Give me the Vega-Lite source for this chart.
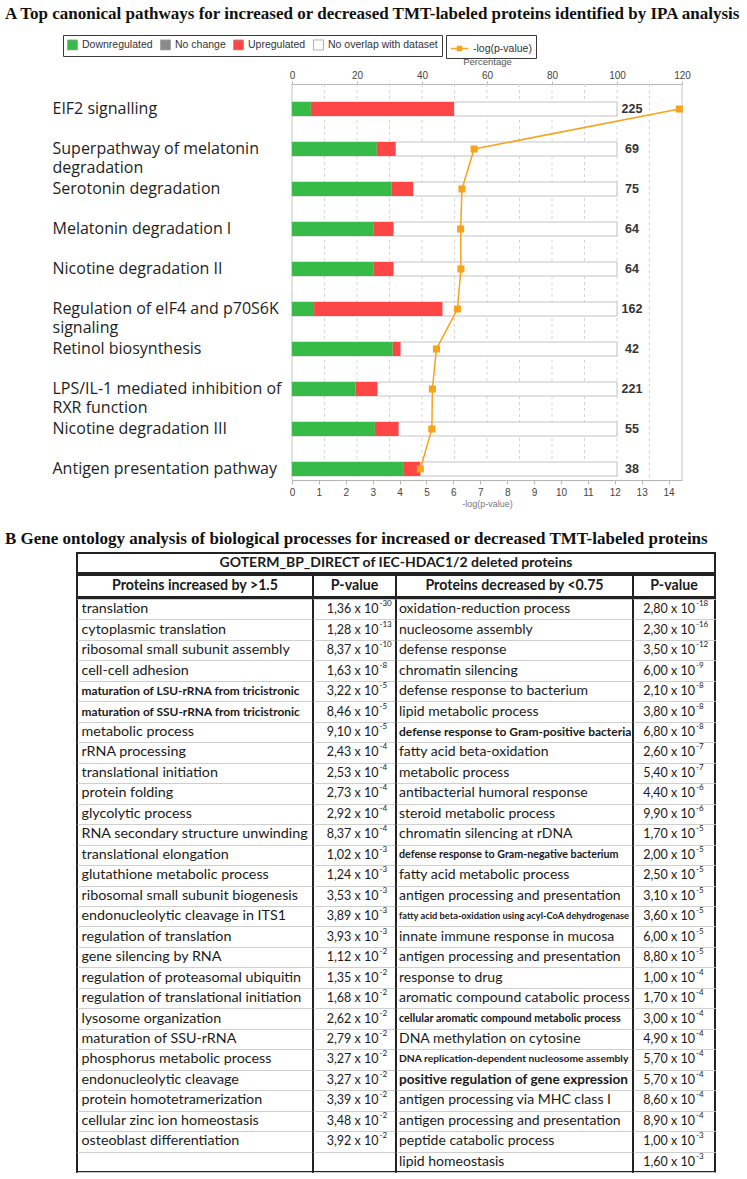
{
  "$schema": "https://vega.github.io/schema/vega-lite/v6.json",
  "padding": {"left": 5, "top": 5, "right": 0, "bottom": 0},
  "background": "white",
  "config": {"view": {"stroke": null}, "axis": {"labelOverlap": false, "labelSeparation": -40}},
  "datasets": {
    "paths": [
      {"pathway": "EIF2 signalling", "n": 225, "logp": 14.4},
      {"pathway": "Superpathway of melatonin degradation", "n": 69, "logp": 6.77},
      {"pathway": "Serotonin degradation", "n": 75, "logp": 6.32},
      {"pathway": "Melatonin degradation I", "n": 64, "logp": 6.27},
      {"pathway": "Nicotine degradation II", "n": 64, "logp": 6.28},
      {"pathway": "Regulation of eIF4 and p70S6K signaling", "n": 162, "logp": 6.15},
      {"pathway": "Retinol biosynthesis", "n": 42, "logp": 5.37},
      {"pathway": "LPS/IL-1 mediated inhibition of RXR function", "n": 221, "logp": 5.22},
      {"pathway": "Nicotine degradation III", "n": 55, "logp": 5.2},
      {"pathway": "Antigen presentation pathway", "n": 38, "logp": 4.77}
    ],
    "bars": [
      {"pathway": "EIF2 signalling", "category": "Downregulated", "pct": 5.8},
      {"pathway": "EIF2 signalling", "category": "Upregulated", "pct": 44.1},
      {"pathway": "EIF2 signalling", "category": "No overlap with dataset", "pct": 50.1},
      {"pathway": "Superpathway of melatonin degradation", "category": "Downregulated", "pct": 26.1},
      {"pathway": "Superpathway of melatonin degradation", "category": "Upregulated", "pct": 5.8},
      {"pathway": "Superpathway of melatonin degradation", "category": "No overlap with dataset", "pct": 68.1},
      {"pathway": "Serotonin degradation", "category": "Downregulated", "pct": 30.7},
      {"pathway": "Serotonin degradation", "category": "Upregulated", "pct": 6.6},
      {"pathway": "Serotonin degradation", "category": "No overlap with dataset", "pct": 62.7},
      {"pathway": "Melatonin degradation I", "category": "Downregulated", "pct": 25.0},
      {"pathway": "Melatonin degradation I", "category": "Upregulated", "pct": 6.25},
      {"pathway": "Melatonin degradation I", "category": "No overlap with dataset", "pct": 68.75},
      {"pathway": "Nicotine degradation II", "category": "Downregulated", "pct": 25.0},
      {"pathway": "Nicotine degradation II", "category": "Upregulated", "pct": 6.25},
      {"pathway": "Nicotine degradation II", "category": "No overlap with dataset", "pct": 68.75},
      {"pathway": "Regulation of eIF4 and p70S6K signaling", "category": "Downregulated", "pct": 6.8},
      {"pathway": "Regulation of eIF4 and p70S6K signaling", "category": "Upregulated", "pct": 39.5},
      {"pathway": "Regulation of eIF4 and p70S6K signaling", "category": "No overlap with dataset", "pct": 53.7},
      {"pathway": "Retinol biosynthesis", "category": "Downregulated", "pct": 31.0},
      {"pathway": "Retinol biosynthesis", "category": "Upregulated", "pct": 2.4},
      {"pathway": "Retinol biosynthesis", "category": "No overlap with dataset", "pct": 66.6},
      {"pathway": "LPS/IL-1 mediated inhibition of RXR function", "category": "Downregulated", "pct": 19.5},
      {"pathway": "LPS/IL-1 mediated inhibition of RXR function", "category": "Upregulated", "pct": 6.8},
      {"pathway": "LPS/IL-1 mediated inhibition of RXR function", "category": "No overlap with dataset", "pct": 73.7},
      {"pathway": "Nicotine degradation III", "category": "Downregulated", "pct": 25.5},
      {"pathway": "Nicotine degradation III", "category": "Upregulated", "pct": 7.3},
      {"pathway": "Nicotine degradation III", "category": "No overlap with dataset", "pct": 67.2},
      {"pathway": "Antigen presentation pathway", "category": "Downregulated", "pct": 34.2},
      {"pathway": "Antigen presentation pathway", "category": "Upregulated", "pct": 5.3},
      {"pathway": "Antigen presentation pathway", "category": "No overlap with dataset", "pct": 60.5}
    ],
    "frame": [{"edge": 0}, {"edge": 10}, {"edge": 20}, {"edge": 30}, {"edge": 40}, {"edge": 50}, {"edge": 60}, {"edge": 70}, {"edge": 80}, {"edge": 90}, {"edge": 100}, {"edge": 110}, {"edge": 120}],
    "hdr1": [{"label": "GOTERM_BP_DIRECT of IEC-HDAC1/2 deleted proteins"}],
    "hdr2": [
      {"col": "inc", "label": "Proteins increased by >1.5"},
      {"col": "incp", "label": "P-value"},
      {"col": "dec", "label": "Proteins decreased by <0.75"},
      {"col": "decp", "label": "P-value"}
    ],
    "go": [
      {"row": 1, "inc": "translation", "inc_p": "1,36 x 10", "inc_e": "-30", "dec": "oxidation-reduction process", "dec_p": "2,80 x 10", "dec_e": "-18"},
      {"row": 2, "inc": "cytoplasmic translation", "inc_p": "1,28 x 10", "inc_e": "-13", "dec": "nucleosome assembly", "dec_p": "2,30 x 10", "dec_e": "-16"},
      {"row": 3, "inc": "ribosomal small subunit assembly", "inc_p": "8,37 x 10", "inc_e": "-10", "dec": "defense response", "dec_p": "3,50 x 10", "dec_e": "-12"},
      {"row": 4, "inc": "cell-cell adhesion", "inc_p": "1,63 x 10", "inc_e": "-8", "dec": "chromatin silencing", "dec_p": "6,00 x 10", "dec_e": "-9"},
      {"row": 5, "inc": "maturation of LSU-rRNA from tricistronic", "inc_p": "3,22 x 10", "inc_e": "-5", "dec": "defense response to bacterium", "dec_p": "2,10 x 10", "dec_e": "-8"},
      {"row": 6, "inc": "maturation of SSU-rRNA from tricistronic", "inc_p": "8,46 x 10", "inc_e": "-5", "dec": "lipid metabolic process", "dec_p": "3,80 x 10", "dec_e": "-8"},
      {"row": 7, "inc": "metabolic process", "inc_p": "9,10 x 10", "inc_e": "-5", "dec": "defense response to Gram-positive bacteria", "dec_p": "6,80 x 10", "dec_e": "-8"},
      {"row": 8, "inc": "rRNA processing", "inc_p": "2,43 x 10", "inc_e": "-4", "dec": "fatty acid beta-oxidation", "dec_p": "2,60 x 10", "dec_e": "-7"},
      {"row": 9, "inc": "translational initiation", "inc_p": "2,53 x 10", "inc_e": "-4", "dec": "metabolic process", "dec_p": "5,40 x 10", "dec_e": "-7"},
      {"row": 10, "inc": "protein folding", "inc_p": "2,73 x 10", "inc_e": "-4", "dec": "antibacterial humoral response", "dec_p": "4,40 x 10", "dec_e": "-6"},
      {"row": 11, "inc": "glycolytic process", "inc_p": "2,92 x 10", "inc_e": "-4", "dec": "steroid metabolic process", "dec_p": "9,90 x 10", "dec_e": "-6"},
      {"row": 12, "inc": "RNA secondary structure unwinding", "inc_p": "8,37 x 10", "inc_e": "-4", "dec": "chromatin silencing at rDNA", "dec_p": "1,70 x 10", "dec_e": "-5"},
      {"row": 13, "inc": "translational elongation", "inc_p": "1,02 x 10", "inc_e": "-3", "dec": "defense response to Gram-negative bacterium", "dec_p": "2,00 x 10", "dec_e": "-5"},
      {"row": 14, "inc": "glutathione metabolic process", "inc_p": "1,24 x 10", "inc_e": "-3", "dec": "fatty acid metabolic process", "dec_p": "2,50 x 10", "dec_e": "-5"},
      {"row": 15, "inc": "ribosomal small subunit biogenesis", "inc_p": "3,53 x 10", "inc_e": "-3", "dec": "antigen processing and presentation", "dec_p": "3,10 x 10", "dec_e": "-5"},
      {"row": 16, "inc": "endonucleolytic cleavage in ITS1", "inc_p": "3,89 x 10", "inc_e": "-3", "dec": "fatty acid beta-oxidation using acyl-CoA dehydrogenase", "dec_p": "3,60 x 10", "dec_e": "-5"},
      {"row": 17, "inc": "regulation of translation", "inc_p": "3,93 x 10", "inc_e": "-3", "dec": "innate immune response in mucosa", "dec_p": "6,00 x 10", "dec_e": "-5"},
      {"row": 18, "inc": "gene silencing by RNA", "inc_p": "1,12 x 10", "inc_e": "-2", "dec": "antigen processing and presentation", "dec_p": "8,80 x 10", "dec_e": "-5"},
      {"row": 19, "inc": "regulation of proteasomal ubiquitin", "inc_p": "1,35 x 10", "inc_e": "-2", "dec": "response to drug", "dec_p": "1,00 x 10", "dec_e": "-4"},
      {"row": 20, "inc": "regulation of translational initiation", "inc_p": "1,68 x 10", "inc_e": "-2", "dec": "aromatic compound catabolic process", "dec_p": "1,70 x 10", "dec_e": "-4"},
      {"row": 21, "inc": "lysosome organization", "inc_p": "2,62 x 10", "inc_e": "-2", "dec": "cellular aromatic compound metabolic process", "dec_p": "3,00 x 10", "dec_e": "-4"},
      {"row": 22, "inc": "maturation of SSU-rRNA", "inc_p": "2,79 x 10", "inc_e": "-2", "dec": "DNA methylation on cytosine", "dec_p": "4,90 x 10", "dec_e": "-4"},
      {"row": 23, "inc": "phosphorus metabolic process", "inc_p": "3,27 x 10", "inc_e": "-2", "dec": "DNA replication-dependent nucleosome assembly", "dec_p": "5,70 x 10", "dec_e": "-4"},
      {"row": 24, "inc": "endonucleolytic cleavage", "inc_p": "3,27 x 10", "inc_e": "-2", "dec": "positive regulation of gene expression", "dec_p": "5,70 x 10", "dec_e": "-4"},
      {"row": 25, "inc": "protein homotetramerization", "inc_p": "3,39 x 10", "inc_e": "-2", "dec": " antigen processing via MHC class I", "dec_p": "8,60 x 10", "dec_e": "-4"},
      {"row": 26, "inc": "cellular zinc ion homeostasis", "inc_p": "3,48 x 10", "inc_e": "-2", "dec": "antigen processing and presentation", "dec_p": "8,90 x 10", "dec_e": "-4"},
      {"row": 27, "inc": "osteoblast differentiation", "inc_p": "3,92 x 10", "inc_e": "-2", "dec": "peptide catabolic process", "dec_p": "1,00 x 10", "dec_e": "-3"},
      {"row": 28, "inc": "", "inc_p": "", "inc_e": "", "dec": "lipid homeostasis", "dec_p": "1,60 x 10", "dec_e": "-3"}
    ]
  },
  "concat": [
    {
      "width": 605,
      "height": 396,
      "title": {"text": "A Top canonical pathways for increased or decreased TMT-labeled proteins identified by IPA analysis", "anchor": "start", "frame": "group", "dx": -72, "font": "Liberation Serif", "fontSize": 17, "fontWeight": "bold", "color": "#111111", "offset": 33},
      "resolve": {"scale": {"x": "independent"}, "axis": {"x": "independent"}},
      "layer": [
        {
          "data": {"name": "frame"},
          "mark": {"type": "rule", "strokeWidth": 1},
          "encoding": {
            "x": {"field": "edge", "type": "quantitative", "title": "Percentage",
              "scale": {"domain": [0, 120], "nice": false, "range": [215, 605]},
              "axis": {"orient": "top", "values": [0, 10, 20, 30, 40, 50, 60, 70, 80, 90, 100, 110, 120], "tickCount": 12, "grid": false, "domainColor": "#b5b5b5", "tickColor": "#b5b5b5", "tickSize": 3, "labelPadding": 1, "labelFont": "Liberation Sans", "labelFontSize": 10, "labelColor": "#444444", "labelFlush": false, "labelOverlap": false, "labelSeparation": -40, "labelBound": false, "titleFont": "Liberation Sans", "titleFontSize": 9.5, "titleFontWeight": "normal", "titleColor": "#555555", "titlePadding": 4}},
            "color": {"condition": {"test": "datum.edge == 0 || datum.edge == 120", "value": "#c4c4c4"}, "value": "#d6d6d6"},
            "strokeDash": {"condition": {"test": "datum.edge == 0 || datum.edge == 120", "value": [1, 0]}, "value": [3, 3]}
          }
        },
        {
          "layer": [
            {
              "data": {"name": "bars"},
              "mark": {"type": "bar", "fill": "white", "stroke": "#c4c4c4", "strokeWidth": 1},
              "encoding": {
                "y": {
                  "field": "pathway", "type": "nominal",
                  "scale": {"domain": ["EIF2 signalling", "Superpathway of melatonin degradation", "Serotonin degradation", "Melatonin degradation I", "Nicotine degradation II", "Regulation of eIF4 and p70S6K signaling", "Retinol biosynthesis", "LPS/IL-1 mediated inhibition of RXR function", "Nicotine degradation III", "Antigen presentation pathway"], "paddingInner": 0.65, "paddingOuter": 0.275, "align": 0.818},
                  "axis": {"title": null, "domain": false, "ticks": false, "tickSize": 0, "labelPadding": 25, "labelAlign": "left", "labelBaseline": "top", "labelOffset": -7.5, "labelFont": "Open Sans", "labelFontSize": 16, "labelColor": "#1e1e1e", "labelLimit": 320, "labelLineHeight": 19, "labelSeparation": 0, "labelExpr": "datum.label == 'Superpathway of melatonin degradation' ? ['Superpathway of melatonin', 'degradation'] : datum.label == 'Regulation of eIF4 and p70S6K signaling' ? ['Regulation of eIF4 and p70S6K', 'signaling'] : datum.label == 'LPS/IL-1 mediated inhibition of RXR function' ? ['LPS/IL-1 mediated inhibition of', 'RXR function'] : datum.label"}
                },
                "x": {"aggregate": "sum", "field": "pct", "type": "quantitative", "title": "Percentage", "axis": null,
                  "scale": {"domain": [0, 120], "nice": false, "range": [215, 605]}}
              }
            },
            {
              "data": {"name": "bars"},
              "transform": [{"filter": "datum.category != 'No overlap with dataset'"}],
              "mark": {"type": "bar"},
              "encoding": {
                "y": {"field": "pathway", "type": "nominal"},
                "x": {"field": "pct", "type": "quantitative", "stack": "zero", "title": "Percentage", "axis": null},
                "order": {"field": "category", "sort": "ascending"},
                "color": {
                  "field": "category", "type": "nominal",
                  "scale": {"domain": ["Downregulated", "No change", "Upregulated", "No overlap with dataset"], "range": ["#36bb47", "#8a8a8a", "#ff4646", "#ffffff"]},
                  "legend": {"orient": "none", "legendX": -14, "legendY": -49, "direction": "horizontal", "title": null, "strokeColor": "#3a3a3a", "padding": 4, "symbolType": "square", "symbolSize": 100, "labelFont": "Liberation Sans", "labelFontSize": 10.5, "labelColor": "#333333", "columnPadding": 5, "labelOffset": 4, "encode": {"symbols": {"update": {"stroke": {"value": "#a0a0a0"}, "strokeWidth": {"value": 0.8}}}}}
                }
              }
            },
            {
              "data": {"name": "bars"},
              "transform": [
                {"aggregate": [{"op": "sum", "field": "pct", "as": "total"}], "groupby": ["pathway"]},
                {"lookup": "pathway", "from": {"data": {"name": "paths"}, "key": "pathway", "fields": ["n"]}}
              ],
              "mark": {"type": "text", "dx": 15, "align": "center", "font": "Liberation Sans", "fontWeight": "bold", "fontSize": 12.5, "fill": "#333333"},
              "encoding": {
                "y": {"field": "pathway", "type": "nominal"},
                "x": {"field": "total", "type": "quantitative", "title": "Percentage", "axis": null},
                "text": {"field": "n", "type": "quantitative"}
              }
            }
          ]
        },
        {
          "data": {"name": "paths"},
          "layer": [
            {
              "mark": {"type": "line", "strokeWidth": 1.5},
              "encoding": {
                "y": {"field": "pathway", "type": "nominal"},
                "x": {
                  "field": "logp", "type": "quantitative", "title": "-log(p-value)",
                  "scale": {"domain": [0, 14.5], "nice": false, "range": [215, 605]},
                  "axis": {"orient": "bottom", "values": [0, 1, 2, 3, 4, 5, 6, 7, 8, 9, 10, 11, 12, 13, 14], "tickCount": 15, "grid": false, "domainColor": "#b5b5b5", "tickColor": "#b5b5b5", "tickSize": 4, "labelPadding": 3, "labelFont": "Liberation Sans", "labelFontSize": 10, "labelColor": "#444444", "labelFlush": false, "labelOverlap": false, "titleFont": "Liberation Sans", "titleFontSize": 9, "titleFontWeight": "normal", "titleColor": "#777777", "titlePadding": 2}
                },
                "order": {"value": null},
                "stroke": {
                  "datum": "-log(p-value)",
                  "scale": {"range": ["#f9a21c"]},
                  "legend": {"orient": "none", "legendX": 369, "legendY": -49, "title": null, "strokeColor": "#3a3a3a", "padding": 4, "symbolType": "M-1,0H1M-0.22,-0.22H0.22V0.22H-0.22Z", "symbolSize": 300, "symbolStrokeWidth": 1.5, "labelFont": "Liberation Sans", "labelFontSize": 10.5, "labelColor": "#333333", "labelOffset": 4, "encode": {"symbols": {"update": {"fill": {"value": "#f9a21c"}, "stroke": {"value": "#f9a21c"}}}}}
                }
              }
            },
            {
              "mark": {"type": "point", "shape": "square", "filled": true, "size": 50, "color": "#f9a21c", "opacity": 1},
              "encoding": {
                "y": {"field": "pathway", "type": "nominal"},
                "x": {"field": "logp", "type": "quantitative", "title": "-log(p-value)",
                  "axis": {"orient": "bottom", "values": [0, 1, 2, 3, 4, 5, 6, 7, 8, 9, 10, 11, 12, 13, 14], "tickCount": 15, "grid": false, "domainColor": "#b5b5b5", "tickColor": "#b5b5b5", "tickSize": 4, "labelPadding": 3, "labelFont": "Liberation Sans", "labelFontSize": 10, "labelColor": "#444444", "labelFlush": false, "labelOverlap": false, "titleFont": "Liberation Sans", "titleFontSize": 9, "titleFontWeight": "normal", "titleColor": "#777777", "titlePadding": 2}}
              }
            }
          ]
        }
      ]
    },
    {
      "title": {"text": "B Gene ontology analysis of biological processes for increased or decreased TMT-labeled proteins", "anchor": "start", "frame": "group", "dx": -72, "font": "Liberation Serif", "fontSize": 17, "fontWeight": "bold", "color": "#111111", "offset": 4},
      "columns": 1,
      "spacing": 0,
      "concat": [
        {
          "width": 638, "height": 20,
          "data": {"name": "hdr1"},
          "view": {"stroke": "#222222", "strokeWidth": 2},
          "mark": {"type": "text", "font": "Lato", "fontWeight": "bold", "fontSize": 14, "fill": "#1a1a1a"},
          "encoding": {"text": {"field": "label"}}
        },
        {
          "spacing": 0,
          "bounds": "flush",
          "hconcat": [
            {"width": 236, "height": 22, "data": {"name": "hdr2"}, "transform": [{"filter": "datum.col == 'inc'"}], "view": {"stroke": "#222222", "strokeWidth": 2}, "mark": {"type": "text", "font": "Lato", "fontWeight": "bold", "fontSize": 14.2, "fill": "#1a1a1a"}, "encoding": {"text": {"field": "label"}}},
            {"width": 83, "height": 22, "data": {"name": "hdr2"}, "transform": [{"filter": "datum.col == 'incp'"}], "view": {"stroke": "#222222", "strokeWidth": 2}, "mark": {"type": "text", "font": "Lato", "fontWeight": "bold", "fontSize": 14.2, "fill": "#1a1a1a"}, "encoding": {"text": {"field": "label"}}},
            {"width": 237, "height": 22, "data": {"name": "hdr2"}, "transform": [{"filter": "datum.col == 'dec'"}], "view": {"stroke": "#222222", "strokeWidth": 2}, "mark": {"type": "text", "font": "Lato", "fontWeight": "bold", "fontSize": 14.2, "fill": "#1a1a1a"}, "encoding": {"text": {"field": "label"}}},
            {"width": 82, "height": 22, "data": {"name": "hdr2"}, "transform": [{"filter": "datum.col == 'decp'"}], "view": {"stroke": "#222222", "strokeWidth": 2}, "mark": {"type": "text", "font": "Lato", "fontWeight": "bold", "fontSize": 14.2, "fill": "#1a1a1a"}, "encoding": {"text": {"field": "label"}}}
          ]
        },
        {
          "spacing": 0,
          "bounds": "flush",
          "hconcat": [
            {
              "width": 236, "height": 573,
              "data": {"name": "go"},
              "view": {"stroke": "#222222", "strokeWidth": 2},
              "encoding": {"y": {"field": "row", "type": "ordinal", "scale": {"paddingInner": 0, "paddingOuter": 0}, "axis": {"grid": true, "tickBand": "extent", "gridColor": "#cfcfcf", "gridWidth": 1.2, "labels": false, "ticks": false, "domain": false, "title": null, "minExtent": 0, "maxExtent": 0}}},
              "layer": [
                {"transform": [{"filter": "indexof(['maturation of LSU-rRNA from tricistronic', 'maturation of SSU-rRNA from tricistronic'], datum.inc) < 0"}], "mark": {"type": "text", "align": "left", "dx": -113.5, "font": "Lato", "fontSize": 14.3, "fill": "#1a1a1a"}, "encoding": {"text": {"field": "inc"}}},
                {"transform": [{"filter": "indexof(['maturation of LSU-rRNA from tricistronic', 'maturation of SSU-rRNA from tricistronic'], datum.inc) >= 0"}], "mark": {"type": "text", "align": "left", "dx": -113.5, "font": "Lato", "fontWeight": "bold", "fontSize": 11.9, "fill": "#1a1a1a"}, "encoding": {"text": {"field": "inc"}}}
              ]
            },
            {
              "width": 83, "height": 573,
              "data": {"name": "go"},
              "view": {"stroke": "#222222", "strokeWidth": 2},
              "encoding": {"y": {"field": "row", "type": "ordinal", "scale": {"paddingInner": 0, "paddingOuter": 0}, "axis": {"grid": true, "tickBand": "extent", "gridColor": "#cfcfcf", "gridWidth": 1.2, "labels": false, "ticks": false, "domain": false, "title": null, "minExtent": 0, "maxExtent": 0}}},
              "layer": [
                {"mark": {"type": "text", "align": "right", "dx": 24, "font": "Lato", "fontSize": 12.5, "fill": "#1a1a1a"}, "encoding": {"text": {"field": "inc_p"}}},
                {"mark": {"type": "text", "align": "left", "dx": 25, "dy": -5, "font": "Lato", "fontSize": 8, "fill": "#1a1a1a"}, "encoding": {"text": {"field": "inc_e"}}}
              ]
            },
            {
              "width": 237, "height": 573,
              "data": {"name": "go"},
              "view": {"stroke": "#222222", "strokeWidth": 2},
              "encoding": {"y": {"field": "row", "type": "ordinal", "scale": {"paddingInner": 0, "paddingOuter": 0}, "axis": {"grid": true, "tickBand": "extent", "gridColor": "#cfcfcf", "gridWidth": 1.2, "labels": false, "ticks": false, "domain": false, "title": null, "minExtent": 0, "maxExtent": 0}}},
              "layer": [
                {"transform": [{"filter": "indexof(['defense response to Gram-positive bacteria', 'defense response to Gram-negative bacterium', 'fatty acid beta-oxidation using acyl-CoA dehydrogenase', 'cellular aromatic compound metabolic process', 'DNA replication-dependent nucleosome assembly', 'positive regulation of gene expression'], datum.dec) < 0"}], "mark": {"type": "text", "align": "left", "dx": -115.5, "font": "Lato", "fontSize": 14, "fill": "#1a1a1a"}, "encoding": {"text": {"field": "dec"}}},
                {"transform": [{"filter": "indexof(['defense response to Gram-positive bacteria', 'defense response to Gram-negative bacterium', 'fatty acid beta-oxidation using acyl-CoA dehydrogenase', 'cellular aromatic compound metabolic process', 'DNA replication-dependent nucleosome assembly', 'positive regulation of gene expression'], datum.dec) >= 0"}], "mark": {"type": "text", "align": "left", "dx": -115.5, "font": "Lato", "fontWeight": "bold", "fill": "#1a1a1a"}, "encoding": {"text": {"field": "dec"}, "size": {"condition": [{"test": "datum.dec == 'defense response to Gram-positive bacteria'", "value": 12}, {"test": "datum.dec == 'defense response to Gram-negative bacterium'", "value": 10.7}, {"test": "datum.dec == 'fatty acid beta-oxidation using acyl-CoA dehydrogenase'", "value": 9.3}, {"test": "datum.dec == 'cellular aromatic compound metabolic process'", "value": 10.8}, {"test": "datum.dec == 'DNA replication-dependent nucleosome assembly'", "value": 10.3}], "value": 13.6}}}
              ]
            },
            {
              "width": 82, "height": 573,
              "data": {"name": "go"},
              "view": {"stroke": "#222222", "strokeWidth": 2},
              "encoding": {"y": {"field": "row", "type": "ordinal", "scale": {"paddingInner": 0, "paddingOuter": 0}, "axis": {"grid": true, "tickBand": "extent", "gridColor": "#cfcfcf", "gridWidth": 1.2, "labels": false, "ticks": false, "domain": false, "title": null, "minExtent": 0, "maxExtent": 0}}},
              "layer": [
                {"mark": {"type": "text", "align": "right", "dx": 21, "font": "Lato", "fontSize": 12.5, "fill": "#1a1a1a"}, "encoding": {"text": {"field": "dec_p"}}},
                {"mark": {"type": "text", "align": "left", "dx": 22, "dy": -5, "font": "Lato", "fontSize": 8, "fill": "#1a1a1a"}, "encoding": {"text": {"field": "dec_e"}}}
              ]
            }
          ]
        }
      ]
    }
  ],
  "columns": 1,
  "spacing": 22,
  "align": "none",
  "bounds": "full"
}
